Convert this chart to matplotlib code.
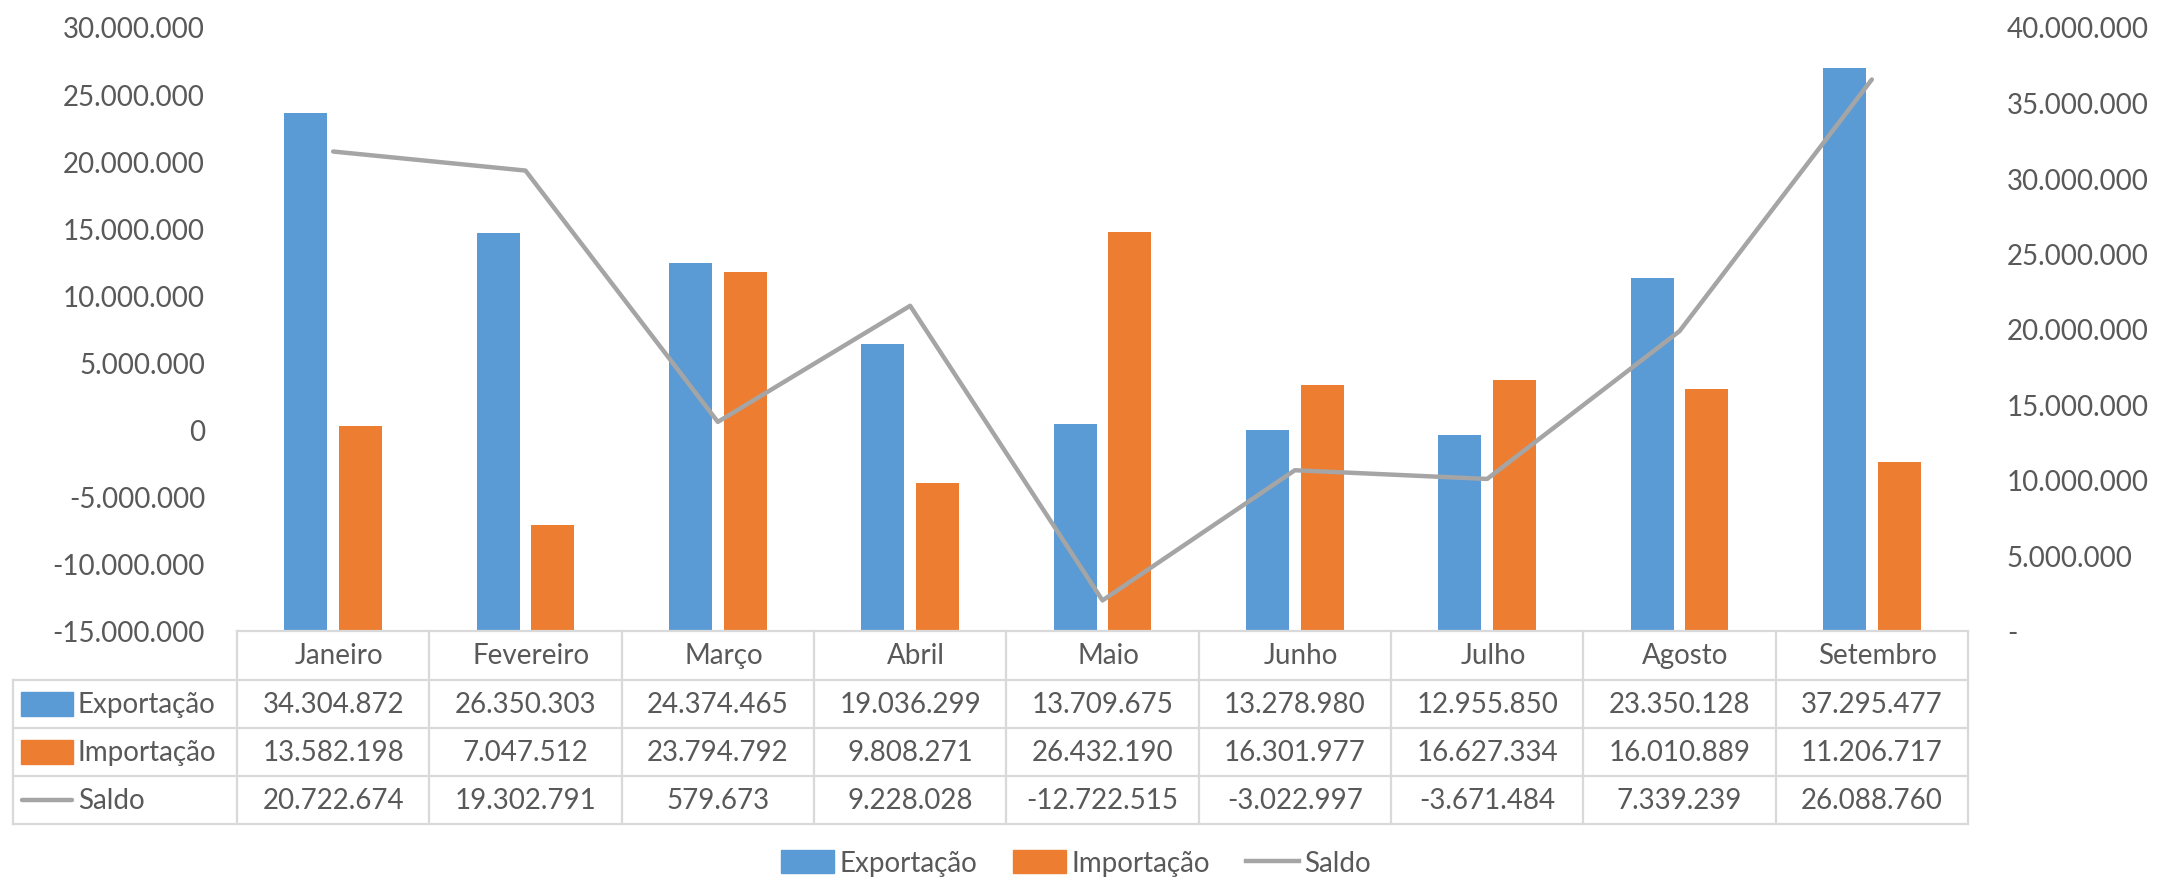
import matplotlib
matplotlib.use("Agg")
import matplotlib.pyplot as plt
from matplotlib.patches import Rectangle
from matplotlib.lines import Line2D
from matplotlib.ticker import FuncFormatter
import numpy as np

plt.rcParams['font.family'] = ['Lato', 'DejaVu Sans']

meses = ['Janeiro', 'Fevereiro', 'Março', 'Abril', 'Maio', 'Junho', 'Julho', 'Agosto', 'Setembro']
exportacao = [34304872, 26350303, 24374465, 19036299, 13709675, 13278980, 12955850, 23350128, 37295477]
importacao = [13582198, 7047512, 23794792, 9808271, 26432190, 16301977, 16627334, 16010889, 11206717]
saldo = [20722674, 19302791, 579673, 9228028, -12722515, -3022997, -3671484, 7339239, 26088760]

azul = '#5B9BD5'
laranja = '#ED7D31'
cinza = '#A5A5A5'
texto = '#595959'
grade = '#D9D9D9'
fs = 20


def fmt(v):
    return f"{int(v):,}".replace(",", ".")


W, H = 2158, 879
fig = plt.figure(figsize=(W / 100, H / 100), dpi=100)
L, R, T, B = 237, 1968, 28, 632
ax = fig.add_axes([L / W, 1 - B / H, (R - L) / W, (B - T) / H])
ax2 = ax.twinx()

x = np.arange(len(meses))
bw = 0.224
ax2.bar(x - 0.142, exportacao, bw, color=azul)
ax2.bar(x + 0.142, importacao, bw, color=laranja)
ax.plot(x, saldo, color=cinza, lw=3.2, solid_capstyle='round', solid_joinstyle='round')

# linha por cima das barras
ax.set_zorder(ax2.get_zorder() + 1)
ax.patch.set_visible(False)

ax.set_xlim(-0.5, len(meses) - 0.5)
ax.set_ylim(-15e6, 30e6)
ax.set_yticks(np.arange(-15e6, 30e6 + 1, 5e6))
ax2.set_ylim(0, 40e6)
ax2.set_yticks(np.arange(0, 40e6 + 1, 5e6))
ax.yaxis.set_major_formatter(FuncFormatter(lambda v, p: fmt(v)))
ax2.yaxis.set_major_formatter(FuncFormatter(lambda v, p: '-' if v == 0 else fmt(v)))
ax.set_xticks([])
for a in (ax, ax2):
    for s in a.spines.values():
        s.set_visible(False)
    a.tick_params(axis='y', length=0, labelsize=fs, labelcolor=texto)
ax.tick_params(axis='y', pad=23)
ax2.tick_params(axis='y', pad=28)

# tabela de dados
tab = fig.add_axes([0, 0, 1, 1])
tab.set_xlim(0, W)
tab.set_ylim(H, 0)
tab.axis('off')
linhas = [632, 681, 729, 777, 825]
cw = (R - L) / len(meses)
bordas = [L + i * cw for i in range(len(meses) + 1)]
lw_g = 1.6
tab.plot([L, R], [linhas[0]] * 2, color=grade, lw=lw_g)
for yl in linhas[1:]:
    tab.plot([13, R], [yl, yl], color=grade, lw=lw_g)
for xb in bordas:
    tab.plot([xb, xb], [linhas[0], linhas[-1]], color=grade, lw=lw_g)
tab.plot([13, 13], [linhas[1], linhas[-1]], color=grade, lw=lw_g)

for i, m in enumerate(meses):
    cx = L + (i + 0.5) * cw
    tab.text(cx + 6, (linhas[0] + linhas[1]) / 2, m, ha='center', va='center', fontsize=fs, color=texto)
    for j, serie in enumerate([exportacao, importacao, saldo]):
        cy = (linhas[j + 1] + linhas[j + 2]) / 2
        tab.text(cx, cy, fmt(serie[i]), ha='center', va='center', fontsize=fs, color=texto)

nomes = ['Exportação', 'Importação', 'Saldo']
for j, nome in enumerate(nomes):
    cy = (linhas[j + 1] + linhas[j + 2]) / 2
    if j < 2:
        tab.add_patch(Rectangle((21, cy - 12), 52, 24, color=[azul, laranja][j]))
    else:
        tab.plot([22, 72], [cy, cy], color=cinza, lw=3.2, solid_capstyle='round')
    tab.text(78, cy, nome, ha='left', va='center', fontsize=fs, color=texto)

handles = [Rectangle((0, 0), 1, 1, color=azul), Rectangle((0, 0), 1, 1, color=laranja),
           Line2D([0], [0], color=cinza, lw=3.2)]
fig.legend(handles, nomes, loc='center', bbox_to_anchor=(1076 / W, 1 - 864 / H), ncol=3,
           frameon=False, fontsize=fs, labelcolor=texto, handlelength=1.9, handleheight=0.9,
           handletextpad=0.2, columnspacing=1.3)

fig.savefig('out.png', dpi=100)
